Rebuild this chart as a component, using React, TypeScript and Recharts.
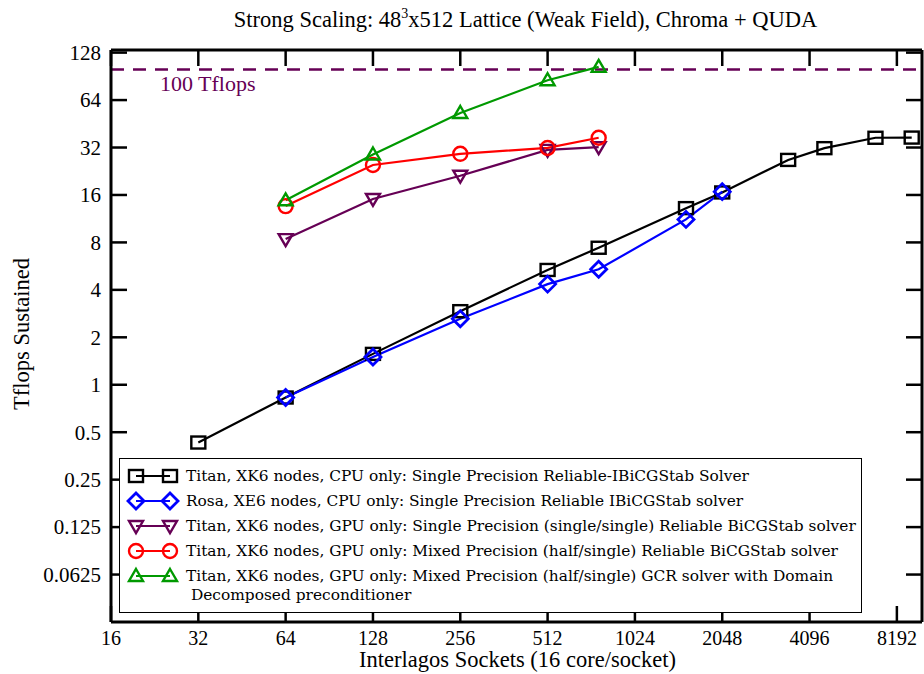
import React from "react";
import { LineChart, Line, XAxis, YAxis, ReferenceLine, Legend } from "recharts";

const xTicks = [16, 32, 64, 128, 256, 512, 1024, 2048, 4096, 8192];
const yTicks = [0.0625, 0.125, 0.25, 0.5, 1, 2, 4, 8, 16, 32, 64, 128];

const titanCpuSockets = [32, 64, 128, 256, 512, 768, 1536, 2048, 3456, 4608, 6912, 9216];
const titanCpuTflops = [0.43, 0.83, 1.57, 2.93, 5.35, 7.4, 13.2, 16.6, 26.7, 31.7, 36.9, 37.0];

const rosaSockets = [64, 128, 256, 512, 768, 1536, 2048];
const rosaTflops = [0.83, 1.5, 2.62, 4.35, 5.4, 11.2, 16.8];

const gpuSockets = [64, 128, 256, 512, 768];
const gpuSingleTflops = [8.4, 15.1, 21.2, 30.9, 32.2];
const gpuMixedTflops = [13.6, 24.8, 29.2, 31.8, 36.9];
const gpuGcrTflops = [14.8, 28.9, 53, 85.5, 104];

const SERIF = "'Liberation Serif', 'Times New Roman', serif";
const LEGEND_FONT = "'DejaVu Serif', serif";
const PURPLE = "#660055";

const zip = (xs: number[], ys: number[]) => xs.map((x, i) => ({ x, y: ys[i] }));

type Shape = "square" | "diamond" | "triangleDown" | "circle" | "triangleUp";

const series: { key: string; lines: string[]; color: string; shape: Shape; data: { x: number; y: number }[] }[] = [
  {
    key: "titanCpu",
    lines: ["Titan, XK6 nodes, CPU only: Single Precision Reliable-IBiCGStab Solver"],
    color: "#000000",
    shape: "square",
    data: zip(titanCpuSockets, titanCpuTflops),
  },
  {
    key: "rosaCpu",
    lines: ["Rosa, XE6 nodes, CPU only: Single Precision Reliable IBiCGStab solver"],
    color: "#0000ff",
    shape: "diamond",
    data: zip(rosaSockets, rosaTflops),
  },
  {
    key: "gpuSingle",
    lines: ["Titan, XK6 nodes, GPU only: Single Precision (single/single) Reliable BiCGStab solver"],
    color: PURPLE,
    shape: "triangleDown",
    data: zip(gpuSockets, gpuSingleTflops),
  },
  {
    key: "gpuMixed",
    lines: ["Titan, XK6 nodes, GPU only: Mixed Precision (half/single) Reliable BiCGStab solver"],
    color: "#ff0000",
    shape: "circle",
    data: zip(gpuSockets, gpuMixedTflops),
  },
  {
    key: "gpuGcr",
    lines: [
      "Titan, XK6 nodes, GPU only: Mixed Precision (half/single) GCR solver with Domain",
      " Decomposed preconditioner",
    ],
    color: "#009900",
    shape: "triangleUp",
    data: zip(gpuSockets, gpuGcrTflops),
  },
];

function Marker({ cx, cy, shape, color }: { cx: number; cy: number; shape: Shape; color: string }) {
  const sw = 2.4;
  if (shape === "square")
    return <rect x={cx - 7} y={cy - 6} width={14} height={12} fill="none" stroke={color} strokeWidth={sw} />;
  if (shape === "diamond")
    return (
      <polygon
        points={`${cx},${cy - 8} ${cx + 8},${cy} ${cx},${cy + 8} ${cx - 8},${cy}`}
        fill="none"
        stroke={color}
        strokeWidth={sw + 0.4}
      />
    );
  if (shape === "triangleDown")
    return (
      <polygon
        points={`${cx - 7},${cy - 5} ${cx + 7},${cy - 5} ${cx},${cy + 7}`}
        fill="none"
        stroke={color}
        strokeWidth={sw}
      />
    );
  if (shape === "circle") return <circle cx={cx} cy={cy} r={7} fill="none" stroke={color} strokeWidth={sw} />;
  return (
    <polygon
      points={`${cx},${cy - 7} ${cx + 7},${cy + 5} ${cx - 7},${cy + 5}`}
      fill="none"
      stroke={color}
      strokeWidth={sw}
    />
  );
}

const LeftTick = (props: any) => {
  const { x, y, payload } = props;
  return (
    <g>
      <line x1={x + 10} x2={x + 26} y1={y} y2={y} stroke="#000" strokeWidth={2.5} />
      <text x={x} y={y} dy="0.35em" textAnchor="end" fontFamily={SERIF} fontSize={21} fill="#000">
        {payload.value}
      </text>
    </g>
  );
};

const RightTick = (props: any) => {
  const { x, y } = props;
  return <line x1={x} x2={x - 16} y1={y} y2={y} stroke="#000" strokeWidth={2.5} />;
};

const BottomTick = (props: any) => {
  const { x, y, payload } = props;
  return (
    <g>
      <line x1={x} x2={x} y1={y} y2={y - 16} stroke="#000" strokeWidth={2.5} />
      <text x={x} y={y + 23} textAnchor="middle" fontFamily={SERIF} fontSize={20} fill="#000">
        {payload.value}
      </text>
    </g>
  );
};

const TopTick = (props: any) => {
  const { x, y } = props;
  return <line x1={x} x2={x} y1={y} y2={y + 16} stroke="#000" strokeWidth={2.5} />;
};

const LegendBox = () => (
  <div style={{ width: 741, height: 153, border: "1.5px solid #000", background: "#fff" }}>
    <svg width={741} height={153}>
      {series.map((s, i) => {
        const cy = 17 + i * 25;
        return (
          <g key={s.key}>
            <line x1={16} x2={50} y1={cy} y2={cy} stroke={s.color} strokeWidth={2.2} />
            <Marker cx={16} cy={cy} shape={s.shape} color={s.color} />
            <Marker cx={50} cy={cy} shape={s.shape} color={s.color} />
            {s.lines.map((t, j) => (
              <text
                key={j}
                x={66}
                y={cy + j * 19}
                dy="0.35em"
                fontFamily={LEGEND_FONT}
                fontSize={15.4}
                fill="#000"
                style={{ whiteSpace: "pre" }}
              >
                {t}
              </text>
            ))}
          </g>
        );
      })}
    </svg>
  </div>
);

export default function App() {
  return (
    <div style={{ position: "absolute", left: 0, top: 0, width: 924, height: 674, background: "#fff" }}>
      <LineChart width={924} height={674} margin={{ top: 49, right: 1, bottom: 0, left: 0 }}>
        <XAxis
          dataKey="x"
          type="number"
          scale="log"
          domain={[16, 10000]}
          allowDataOverflow
          ticks={xTicks}
          height={52}
          tickSize={0}
          tickMargin={0}
          tickLine={false}
          axisLine={{ stroke: "#000", strokeWidth: 3 }}
          tick={BottomTick}
          interval={0}
          label={(p: any) => (
            <text
              key="xlabel"
              x={p.viewBox.x + p.viewBox.width / 2 + 1}
              y={p.viewBox.y + 45}
              textAnchor="middle"
              fontFamily={SERIF}
              fontSize={22.5}
              fill="#000"
            >
              Interlagos Sockets (16 core/socket)
            </text>
          )}
        />
        <XAxis
          xAxisId="top"
          orientation="top"
          dataKey="x"
          type="number"
          scale="log"
          domain={[16, 10000]}
          allowDataOverflow
          ticks={xTicks}
          height={1}
          tickSize={0}
          tickMargin={0}
          tickLine={false}
          axisLine={{ stroke: "#000", strokeWidth: 3 }}
          tick={TopTick}
          interval={0}
          label={(p: any) => (
            <text
              key="title"
              x={p.viewBox.x + p.viewBox.width / 2 + 9}
              y={p.viewBox.y - 22}
              textAnchor="middle"
              fontFamily={SERIF}
              fontSize={22.5}
              fill="#000"
            >
              Strong Scaling: 48
              <tspan dy={-9} fontSize={14}>
                3
              </tspan>
              <tspan dy={9}>x512 Lattice (Weak Field), Chroma + QUDA</tspan>
            </text>
          )}
        />
        <YAxis
          type="number"
          scale="log"
          domain={[0.03125, 133]}
          allowDataOverflow
          ticks={yTicks}
          width={111}
          tickSize={0}
          tickMargin={10}
          tickLine={false}
          axisLine={{ stroke: "#000", strokeWidth: 3 }}
          tick={LeftTick}
          interval={0}
        />
        <YAxis
          yAxisId="right"
          orientation="right"
          type="number"
          scale="log"
          domain={[0.03125, 133]}
          allowDataOverflow
          ticks={yTicks}
          width={1}
          tickSize={0}
          tickMargin={0}
          tickLine={false}
          axisLine={{ stroke: "#000", strokeWidth: 3 }}
          tick={RightTick}
          interval={0}
        />
        <ReferenceLine
          y={100}
          stroke={PURPLE}
          strokeWidth={2.5}
          strokeDasharray="13 9"
          label={(p: any) => (
            <text
              key="reflabel"
              x={p.viewBox.x + 49}
              y={p.viewBox.y + 21}
              fontFamily={SERIF}
              fontSize={22}
              fill={PURPLE}
            >
              100 Tflops
            </text>
          )}
        />
        {series.map((s) => (
          <Line
            key={s.key}
            data={s.data}
            dataKey="y"
            name={s.lines.join("")}
            stroke={s.color}
            strokeWidth={2.2}
            isAnimationActive={false}
            dot={(p: any) => <Marker key={p.index} cx={p.cx} cy={p.cy} shape={s.shape} color={s.color} />}
            activeDot={false}
          />
        ))}
        <Legend
          layout="vertical"
          align="center"
          verticalAlign="middle"
          wrapperStyle={{ left: 119, top: 458, width: 744 }}
          content={() => <LegendBox />}
        />
      </LineChart>
      <svg
        width={44}
        height={674}
        style={{ position: "absolute", left: 0, top: 0, pointerEvents: "none" }}
      >
        <text
          x={21}
          y={334}
          transform="rotate(-90, 21, 334)"
          textAnchor="middle"
          dy="0.35em"
          fontFamily={SERIF}
          fontSize={22.5}
          fill="#000"
        >
          Tflops Sustained
        </text>
      </svg>
    </div>
  );
}
